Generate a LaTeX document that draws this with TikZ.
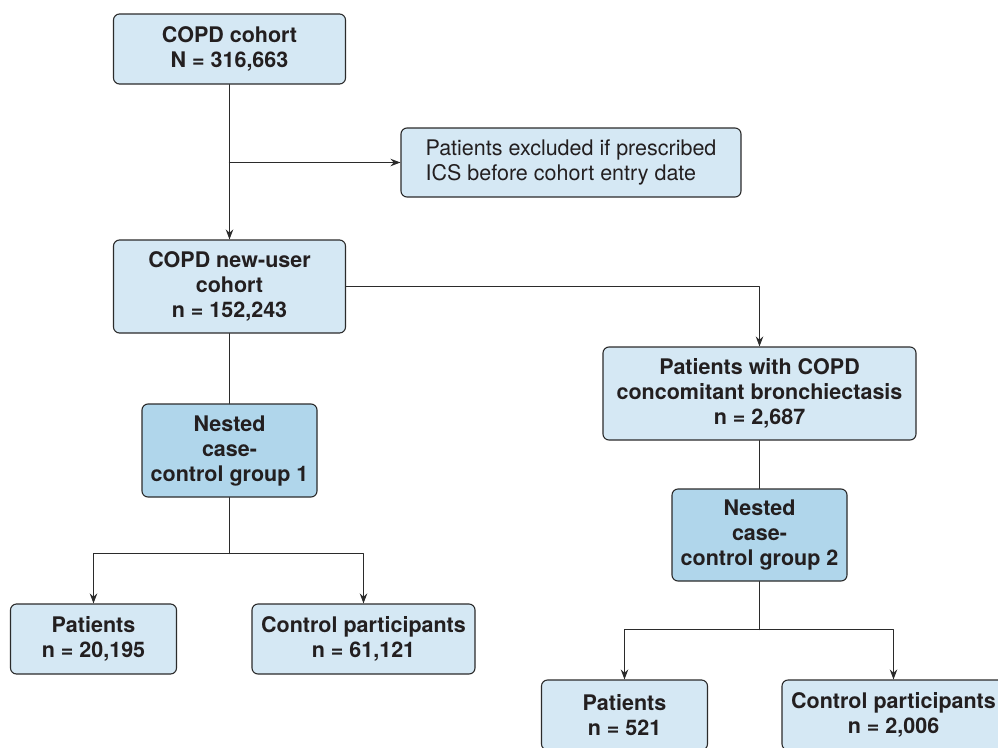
\documentclass[tikz,border=0pt]{standalone}
\usepackage{fontspec}
\setmainfont{TeX Gyre Heros}
\usepackage{tikz}
\usetikzlibrary{arrows.meta}

\definecolor{boxfill}{HTML}{D5E8F4}
\definecolor{nestfill}{HTML}{B0D6EB}
\definecolor{edgecol}{HTML}{2B2B2B}
\definecolor{txtcol}{HTML}{231F20}

\begin{document}
\begin{tikzpicture}[x=1pt, y=-1pt, line cap=round, line join=round,
  box/.style={draw=edgecol, fill=boxfill, line width=1.1pt, rounded corners=6pt,
    align=center, inner sep=0pt, text=txtcol,
    font=\fontsize{21.5}{25}\selectfont\bfseries},
  nestbox/.style={box, fill=nestfill},
  notebox/.style={box, align=left, font=\fontsize{21.5}{25}\selectfont},
  link/.style={draw=edgecol, line width=1.1pt},
  arr/.style={link, -{Stealth[length=10pt, width=7.5pt]}}]
  \useasboundingbox (0,0) rectangle (998,747);

  % Cohortes
  \node[box, minimum width=232pt, minimum height=70pt] (cohort) at (229.5,49)
    {COPD cohort\\N = 316,663};
  \node[notebox, minimum width=340pt, minimum height=69pt] (excl) at (571,162.5)
    {Patients excluded if prescribed\\ICS before cohort entry date};
  \node[box, minimum width=232pt, minimum height=93pt] (newuser) at (229.5,286.5)
    {COPD new-user\\cohort\\n = 152,243};
  \node[box, minimum width=313pt, minimum height=93pt] (bronch) at (759.5,393.5)
    {Patients with COPD\\concomitant bronchiectasis\\n = 2,687};

  % Grupos anidados
  \node[nestbox, minimum width=175pt, minimum height=93pt] (nest1) at (229.5,450.5)
    {Nested\\case-\\control group 1};
  \node[nestbox, minimum width=175pt, minimum height=92pt] (nest2) at (759.5,535)
    {Nested\\case-\\control group 2};

  % Casos y controles
  \node[box, minimum width=166pt, minimum height=70pt] (pat1) at (93.5,639)
    {Patients\\n = 20,195};
  \node[box, minimum width=223pt, minimum height=70pt] (ctrl1) at (363.5,639)
    {Control participants\\n = 61,121};
  \node[box, minimum width=166pt, minimum height=70pt] (pat2) at (624.5,715)
    {Patients\\n = 521};
  \node[box, minimum width=223pt, minimum height=70pt] (ctrl2) at (893.5,715)
    {Control participants\\n = 2,006};

  % Puntos de bifurcacion
  \coordinate (split1) at (229.5,553.5);
  \coordinate (split2) at (759.5,629.5);

  % Flechas
  \draw[arr] (cohort) -- (newuser);
  \draw[arr] (cohort |- excl) -- (excl);
  \draw[arr] (newuser.east) -| (bronch.north);
  \draw[link] (newuser) -- (nest1);
  \draw[link] (bronch) -- (nest2);
  \draw[link] (nest1) -- (split1);
  \draw[arr] (split1) -| (pat1.north);
  \draw[arr] (split1) -| (ctrl1.north);
  \draw[link] (nest2) -- (split2);
  \draw[arr] (split2) -| (pat2.north);
  \draw[arr] (split2) -| (ctrl2.north);
\end{tikzpicture}
\end{document}
